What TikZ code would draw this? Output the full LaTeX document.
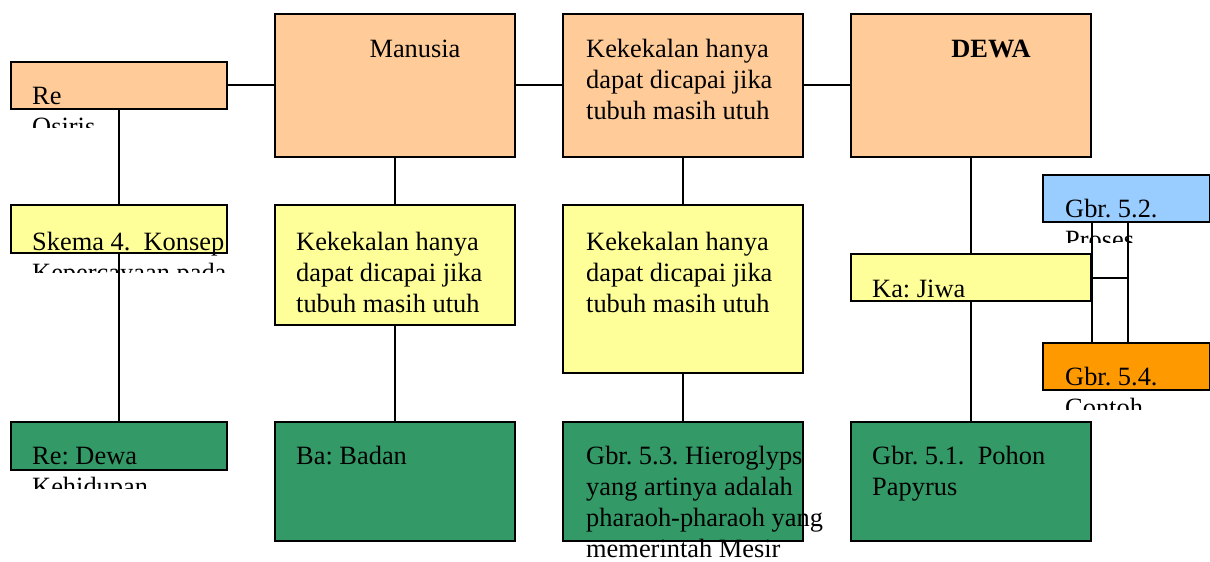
\documentclass[tikz,border=0pt]{standalone}
\usepackage{fontspec}
\setmainfont{Liberation Serif}
\definecolor{peach}{HTML}{FFCC99}
\definecolor{lemon}{HTML}{FFFF99}
\definecolor{leaf}{HTML}{339966}
\definecolor{sky}{HTML}{99CCFF}
\definecolor{amber}{HTML}{FF9900}
\frenchspacing

\begin{document}
\begin{tikzpicture}[x=1pt, y=-1pt,
    box/.style={draw, line width=1.5pt, anchor=north west, inner sep=0pt},
    txt/.style={anchor=base west, inner sep=0pt, align=left},
    link/.style={line width=1.7pt},
    font=\fontsize{26.4}{31}\selectfont]
      \useasboundingbox (0,0) rectangle (1210,562);

      % top row
      \node[box, fill=peach, minimum width=216pt, minimum height=47pt] (re) at (10,61) {};
      \node[box, fill=peach, minimum width=240pt, minimum height=143pt] (manusia) at (274,13) {};
      \node[box, fill=peach, minimum width=240pt, minimum height=143pt] (kekal) at (562,13) {};
      \node[box, fill=peach, minimum width=240pt, minimum height=143pt] (dewa) at (850,13) {};

      % middle row
      \node[box, fill=lemon, minimum width=216pt, minimum height=48pt] (skema) at (10,204) {};
      \node[box, fill=lemon, minimum width=240pt, minimum height=120pt] (kekalA) at (274,204) {};
      \node[box, fill=lemon, minimum width=240pt, minimum height=168pt] (kekalB) at (562,204) {};
      \node[box, fill=lemon, minimum width=240pt, minimum height=47pt] (ka) at (850,253) {};
      \node[box, fill=sky, minimum width=167pt, minimum height=47pt] (proses) at (1042,174) {};
      \node[box, fill=amber, minimum width=167pt, minimum height=47pt] (contoh) at (1042,342) {};
      \node[box, fill=white, minimum width=36pt, minimum height=56pt] (sela) at (1091,221) {};
      \node[box, fill=white, minimum width=36pt, minimum height=65pt] (selb) at (1091,277) {};

      % bottom row
      \node[box, fill=leaf, minimum width=216pt, minimum height=48pt] (redewa) at (10,421) {};
      \node[box, fill=leaf, minimum width=240pt, minimum height=119pt] (ba) at (274,421) {};
      \node[box, fill=leaf, minimum width=240pt, minimum height=119pt] (hiero) at (562,421) {};
      \node[box, fill=leaf, minimum width=240pt, minimum height=119pt] (pohon) at (850,421) {};

      \draw[link] (re)--(manusia)--(kekal)--(dewa);
      \draw[link] (re)--(skema)--(redewa);
      \draw[link] (manusia)--(kekalA)--(ba);
      \draw[link] (kekal)--(kekalB)--(hiero);
      \draw[link] (dewa)--(ka)--(pohon);

      % texts (placed at the baseline of their last line)
      \begin{scope}
      \clip (0,61) rectangle (240,127);
      \node[txt] (reT) at (32,135) {Re\\Osiris};
      \end{scope}
      \node[txt, anchor=base] (manusiaT) at (415,57) {Manusia};
      \node[txt] (kekalT) at (586,119) {Kekekalan hanya\\dapat dicapai jika\\tubuh masih utuh};
      \node[txt, anchor=base, font=\fontsize{26.4}{31}\selectfont\bfseries] (dewaT) at (991,57) {DEWA};

      \begin{scope}
      \clip (0,204) rectangle (240,272);
      \node[txt] (skemaT) at (32,281) {Skema 4.\ \ Konsep\\Kepercayaan pada};
      \end{scope}
      \node[txt] (kekalAT) at (296,312) {Kekekalan hanya\\dapat dicapai jika\\tubuh masih utuh};
      \node[txt] (kekalBT) at (586,312) {Kekekalan hanya\\dapat dicapai jika\\tubuh masih utuh};
      \node[txt] (kaT) at (872,297) {Ka: Jiwa};
      \begin{scope}
      \clip (1042,174) rectangle (1210,242);
      \node[txt] (prosesT) at (1065,248) {Gbr. 5.2.\\Proses};
      \end{scope}
      \begin{scope}
      \clip (1042,342) rectangle (1210,409);
      \node[txt] (contohT) at (1065,416) {Gbr. 5.4.\\Contoh};
      \end{scope}

      \begin{scope}
      \clip (0,421) rectangle (240,488);
      \node[txt] (redewaT) at (32,495) {Re: Dewa\\Kehidupan};
      \end{scope}
      \node[txt] (baT) at (296,464) {Ba: Badan};
      \node[txt] (hieroT) at (586,557) {Gbr. 5.3. Hieroglyps\\yang artinya adalah\\pharaoh-pharaoh yang\\memerintah Mesir};
      \node[txt] (pohonT) at (872,495) {Gbr. 5.1.\ \ Pohon\\Papyrus};
\end{tikzpicture}
\end{document}
